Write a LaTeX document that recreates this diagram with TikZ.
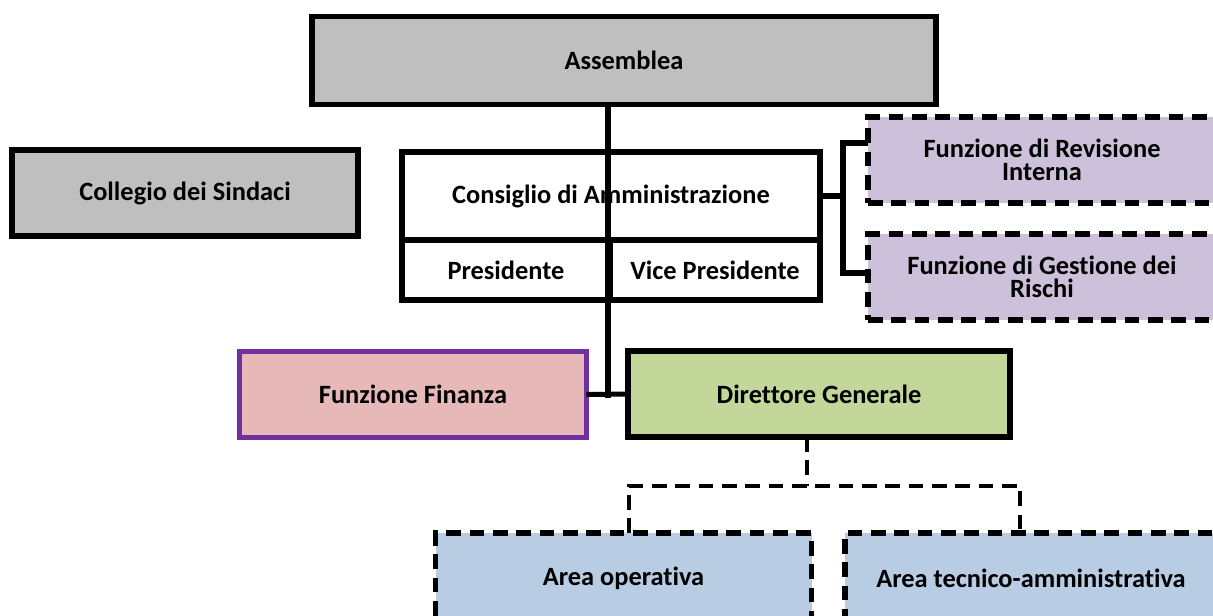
\documentclass[tikz,border=0pt]{standalone}
\usepackage{fontspec}
\setmainfont{Carlito}[Ligatures=NoCommon]
\definecolor{greybox}{HTML}{BFBFBF}
\definecolor{lavbox}{HTML}{CCC0DA}
\definecolor{pinkbox}{HTML}{E6B8B7}
\definecolor{greenbox}{HTML}{C4D79B}
\definecolor{bluebox}{HTML}{B8CCE4}
\definecolor{purpleline}{HTML}{7030A0}
\begin{document}
\begin{tikzpicture}[x=0.75pt,y=-0.75pt,
  box/.style={draw=black, line width=3.8pt, inner sep=0pt, outer sep=0pt, align=center,
    font=\fontsize{19.8}{17.6}\selectfont\bfseries},
  dbox/.style={box, dash pattern=on 11pt off 6.5pt},
  link/.style={draw=black, line width=3.8pt},
  dlink/.style={draw=black, line width=2.6pt, dash pattern=on 11pt off 6.5pt}]
\useasboundingbox (0,0) rectangle (1213,615);
\clip (0,0) rectangle (1213,615);
% nodes
\node[box, fill=greybox, minimum width=468pt, minimum height=65.5pt] (ass) at (624,60.5) {Assemblea};
\node[box, fill=greybox, minimum width=259.5pt, minimum height=64.5pt] (col) at (185,193) {Collegio dei Sindaci};
\node[box, fill=white, minimum width=313.5pt, minimum height=66pt] (cda) at (611,196) {Consiglio di Amministrazione};
\node[box, fill=white, minimum width=156pt, minimum height=45pt] (pres) at (506,270) {Presidente};
\node[box, fill=white, minimum width=157.5pt, minimum height=45pt] (vice) at (715,270) {Vice Presidente};
\node[dbox, fill=lavbox, minimum width=261pt, minimum height=64.5pt] (rev) at (1042,160) {Funzione di Revisione\\Interna};
\node[dbox, fill=lavbox, minimum width=261pt, minimum height=64.5pt] (ges) at (1042,277) {Funzione di Gestione dei\\Rischi};
\node[box, draw=purpleline, fill=pinkbox, minimum width=260pt, minimum height=64.5pt] (fin) at (413,394.5) {Funzione Finanza};
\node[box, fill=greenbox, minimum width=286.5pt, minimum height=64.5pt] (dir) at (819,394) {Direttore Generale};
\node[dbox, fill=bluebox, minimum width=282pt, minimum height=67.5pt] (aop) at (623.5,578) {Area operativa};
\node[dbox, fill=bluebox, minimum width=279pt, minimum height=67.5pt] (atec) at (1031,578) {Area tecnico-amministrativa};
% coordinates
\coordinate (j) at (608,395);
\coordinate (bt) at (843,143);
\coordinate (bb) at (843,273);
\coordinate (bm) at (843,196);
\coordinate (d1) at (807,486);
\coordinate (dl) at (629,486);
\coordinate (dr) at (1020,486);
% connectors
\draw[link] (ass.south -| j) -- ([yshift=-1.9pt]j);
\draw[link] (fin.east) -- (dir.west);
\draw[link] (cda.east) -- (bm);
\draw[link] (rev.west |- bt) -- (bt) -- (bb) -- (ges.west |- bb);
\draw[dlink] (dir.south -| d1) -- (d1);
\draw[dlink] (aop.north -| dl) -- (dl) -- (dr) -- (atec.north -| dr);
\end{tikzpicture}
\end{document}
